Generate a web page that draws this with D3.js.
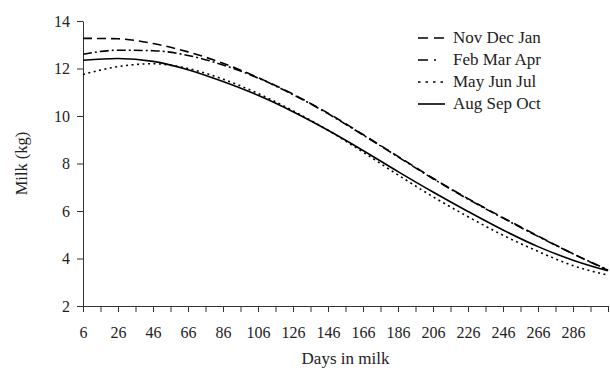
<!DOCTYPE html>
<html>
<head>
<meta charset="utf-8">
<script src="https://cdn.jsdelivr.net/npm/d3@7"></script>
<style>
  body { margin: 0; background: #fff; }
  svg text { font-family: "Liberation Serif", "DejaVu Serif", serif; fill: #222; }
  .axis path, .axis line { stroke: #333; }
</style>
</head>
<body>
<div id="chart"></div>
<script>
// days in milk (x) and milk yield per calving season (kg)
var days = [6, 26, 46, 66, 86, 106, 126, 146, 166, 186, 206, 226, 246, 266, 286, 306];
var novDecJan = [13.27, 13.25, 13.05, 12.7, 12.22, 11.62, 10.92, 10.12, 9.22, 8.3, 7.38, 6.52, 5.72, 4.95, 4.2, 3.5];
var febMarApr = [12.6, 12.77, 12.75, 12.55, 12.15, 11.6, 10.9, 10.1, 9.2, 8.28, 7.36, 6.5, 5.7, 4.93, 4.2, 3.52];
var mayJunJul = [11.75, 12.08, 12.2, 12.0, 11.55, 10.95, 10.22, 9.4, 8.48, 7.52, 6.6, 5.76, 4.98, 4.3, 3.7, 3.3];
var augSepOct = [12.35, 12.42, 12.3, 11.95, 11.45, 10.87, 10.18, 9.4, 8.55, 7.66, 6.8, 5.98, 5.2, 4.5, 3.93, 3.48];

var seriesNames = ["Nov Dec Jan", "Feb Mar Apr", "May Jun Jul", "Aug Sep Oct"];
var seriesValues = [novDecJan, febMarApr, mayJunJul, augSepOct];
var dashes = ["9,5", "9,3,2,3", "2,3.5", null];

var xTicks = d3.range(6, 307, 10);
var xLabels = d3.range(6, 287, 20);
var yTicks = [2, 4, 6, 8, 10, 12, 14];

//svg size
var width = 610, height = 370;
var margin = {top: 21, right: 2, bottom: 64, left: 83};
var w = width - margin.left - margin.right;
var h = height - margin.top - margin.bottom;

var svg = d3.select("#chart")
  .append("svg")
  .attr("width", width)
  .attr("height", height);

var g = svg.append("g")
  .attr("transform", "translate(" + margin.left + "," + margin.top + ")");

var x = d3.scaleLinear().domain([6, 306]).range([0, w]);
var y = d3.scaleLinear().domain([2, 14]).range([h, 0]);

// x axis
var xAxis = g.append("g")
  .attr("class", "axis")
  .attr("transform", "translate(0," + h + ")")
  .call(d3.axisBottom(x).tickValues(xTicks).tickSize(6).tickSizeOuter(0)
    .tickFormat(function(d) { return xLabels.indexOf(d) >= 0 ? d : ""; }));
xAxis.selectAll("text")
  .attr("y", 21)
  .style("font-size", "16px");

// y axis
var yAxis = g.append("g")
  .attr("class", "axis")
  .call(d3.axisLeft(y).tickValues(yTicks).tickSize(6).tickSizeOuter(0).tickPadding(7));
yAxis.selectAll("text").style("font-size", "16px");
xAxis.selectAll("text").style("font-family", "Liberation Serif");
yAxis.selectAll("text").style("font-family", "Liberation Serif");

// titles
svg.append("text")
  .attr("x", margin.left + w / 2)
  .attr("y", 364)
  .attr("text-anchor", "middle")
  .style("font-size", "17px")
  .text("Days in milk");

svg.append("text")
  .attr("transform", "translate(27," + (margin.top + h / 2) + ") rotate(-90)")
  .attr("text-anchor", "middle")
  .style("font-size", "16.5px")
  .text("Milk (kg)");

// lines
var line = d3.line()
  .x(function(d) { return x(d[0]); })
  .y(function(d) { return y(d[1]); })
  .curve(d3.curveMonotoneX);

seriesValues.forEach(function(vals, i) {
  g.append("path")
    .datum(days.map(function(d, j) { return [d, vals[j]]; }))
    .attr("fill", "none")
    .attr("stroke", "#000")
    .attr("stroke-width", 1.6)
    .attr("stroke-dasharray", dashes[i])
    .attr("d", line);
});

// legend
var legend = svg.append("g").attr("transform", "translate(418,38)");
seriesNames.forEach(function(name, i) {
  var row = legend.append("g").attr("transform", "translate(0," + (i * 22) + ")");
  row.append("line")
    .attr("x1", 0).attr("x2", 27)
    .attr("y1", 0).attr("y2", 0)
    .attr("stroke", "#000")
    .attr("stroke-width", 1.6)
    .attr("stroke-dasharray", i == 0 ? "10,6" : i == 1 ? "10,6,2,20" : dashes[i] == null ? null : "2.5,5");
  row.append("text")
    .attr("x", 35)
    .attr("y", 5)
    .style("font-size", "17px")
    .text(name);
});
</script>
</body>
</html>
